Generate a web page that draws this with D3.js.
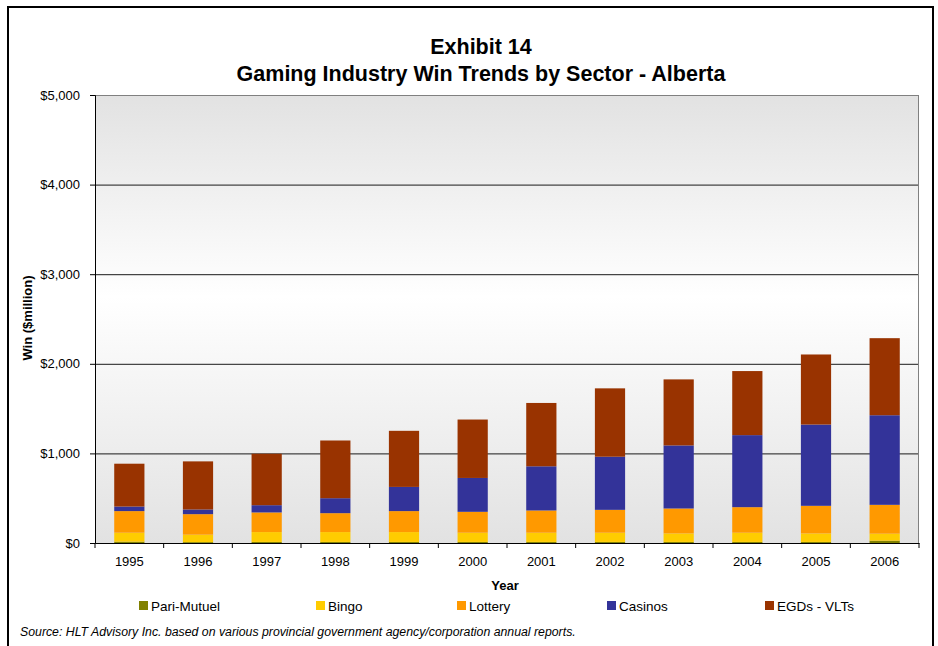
<!DOCTYPE html>
<html><head><meta charset="utf-8">
<script src="https://cdn.jsdelivr.net/npm/d3@7"></script>
<style>body{margin:0;background:#fff;} svg{display:block;font-family:"Liberation Sans",Arial,sans-serif;}</style>
</head><body>
<svg id="c" width="938" height="646"></svg>
<script>
const years = ["1995","1996","1997","1998","1999","2000","2001","2002","2003","2004","2005","2006"];
const seriesNames = ["Pari-Mutuel","Bingo","Lottery","Casinos","EGDs - VLTs"];
const pariMutuel = [15,10,12,12,12,12,12,12,12,12,12,26];
const bingo      = [100,83,110,110,110,103,103,103,95,103,95,78];
const lottery    = [241,229,219,211,234,233,248,255,278,285,308,322];
const casinos    = [51,52,81,167,270,378,493,593,704,804,907,1000];
const egds       = [478,537,574,644,626,652,707,763,737,715,782,860];
const colors     = ["#808000","#FFCC00","#FF9900","#333399","#993300"];
const yTicks     = [0,1000,2000,3000,4000,5000];

const table = years.map((y,i)=>({year:y, "Pari-Mutuel":pariMutuel[i], "Bingo":bingo[i], "Lottery":lottery[i], "Casinos":casinos[i], "EGDs - VLTs":egds[i]}));

const svg = d3.select("#c");
const L=95, R=919, T=95, B=543;
const FF = "Liberation Sans, Arial, sans-serif";

// outer frame
svg.append("rect").attr("x",8).attr("y",7).attr("width",925).attr("height",650)
  .attr("fill","none").attr("stroke","#000").attr("stroke-width",2);

// titles
svg.append("text").attr("x",481).attr("y",54).attr("text-anchor","middle")
  .attr("font-size",21.5).attr("font-weight","bold").text("Exhibit 14");
svg.append("text").attr("x",481).attr("y",81).attr("text-anchor","middle")
  .attr("font-size",21.5).attr("font-weight","bold").text("Gaming Industry Win Trends by Sector - Alberta");

// gradient background
const defs = svg.append("defs");
const g = defs.append("linearGradient").attr("id","bg").attr("x1",0).attr("y1",0).attr("x2",0).attr("y2",1);
g.append("stop").attr("offset","0%").attr("stop-color","#e2e2e2");
g.append("stop").attr("offset","45%").attr("stop-color","#ffffff");
g.append("stop").attr("offset","100%").attr("stop-color","#e2e2e2");
svg.append("rect").attr("x",L).attr("y",T).attr("width",R-L).attr("height",B-T).attr("fill","url(#bg)");

const x = d3.scaleBand().domain(years).range([L,R]).paddingInner(0.56).paddingOuter(0.28);
const xb = d3.scaleBand().domain(years).range([L,R]);
const y = d3.scaleLinear().domain([0,5000]).range([B,T]);

// gridlines
svg.append("g").selectAll("line").data(yTicks.filter(d=>d>0)).join("line")
  .attr("x1",L).attr("x2",R).attr("y1",d=>y(d)+0.5).attr("y2",d=>y(d)+0.5)
  .attr("stroke",d=>d===5000?"#808080":"#1a1a1a").attr("stroke-width",1);
// plot border
svg.append("rect").attr("x",L+0.5).attr("y",T+0.5).attr("width",R-L-1).attr("height",B-T)
  .attr("fill","none").attr("stroke","#808080");

// stacked bars
const stack = d3.stack().keys(seriesNames)(table);
const color = d3.scaleOrdinal().domain(seriesNames).range(colors);
svg.append("g").selectAll("g").data(stack).join("g").attr("fill",d=>color(d.key))
  .selectAll("rect").data(d=>d).join("rect")
  .attr("x",d=>x(d.data.year)).attr("width",x.bandwidth())
  .attr("y",d=>y(d[1])).attr("height",d=>y(d[0])-y(d[1]));

// y axis
const ya = svg.append("g").attr("transform",`translate(${L},0)`)
  .call(d3.axisLeft(y).tickValues(yTicks).tickSize(5).tickPadding(10).tickFormat(d=>"$"+d3.format(",")(d)));
ya.select(".domain").attr("stroke","#000");
ya.selectAll(".tick line").attr("stroke","#000");
ya.selectAll("text").attr("font-size",13).attr("fill","#000").attr("font-family",FF);

// x axis
const xa = svg.append("g").attr("transform",`translate(0,${B})`)
  .call(d3.axisBottom(xb).tickSize(0).tickPadding(14));
xa.select(".domain").attr("stroke","#000");
xa.selectAll("text").attr("font-size",13).attr("fill","#000").attr("font-family",FF);
// boundary ticks
svg.append("g").selectAll("line").data(years.concat(["end"])).join("line")
  .attr("x1",(d,i)=>L+i*xb.step()).attr("x2",(d,i)=>L+i*xb.step())
  .attr("y1",B).attr("y2",B+5).attr("stroke","#000");

// axis titles
svg.append("text").attr("x",505).attr("y",590).attr("text-anchor","middle")
  .attr("font-size",13).attr("font-weight","bold").text("Year");
svg.append("text").attr("transform","translate(32,318) rotate(-90)").attr("text-anchor","middle")
  .attr("font-size",13).attr("font-weight","bold").text("Win ($million)");

// legend
const legX = [139,316,457,607,765];
const leg = svg.append("g").selectAll("g").data(seriesNames).join("g")
  .attr("transform",(d,i)=>`translate(${legX[i]},601)`);
leg.append("rect").attr("width",9).attr("height",9).attr("fill",d=>color(d));
leg.append("text").attr("x",12).attr("y",10).attr("font-size",13.5).text(d=>d);

// source
svg.append("text").attr("x",20).attr("y",636).attr("font-size",12.3).attr("font-style","italic")
  .text("Source: HLT Advisory Inc. based on various provincial government agency/corporation annual reports.");
</script>
</body></html>
